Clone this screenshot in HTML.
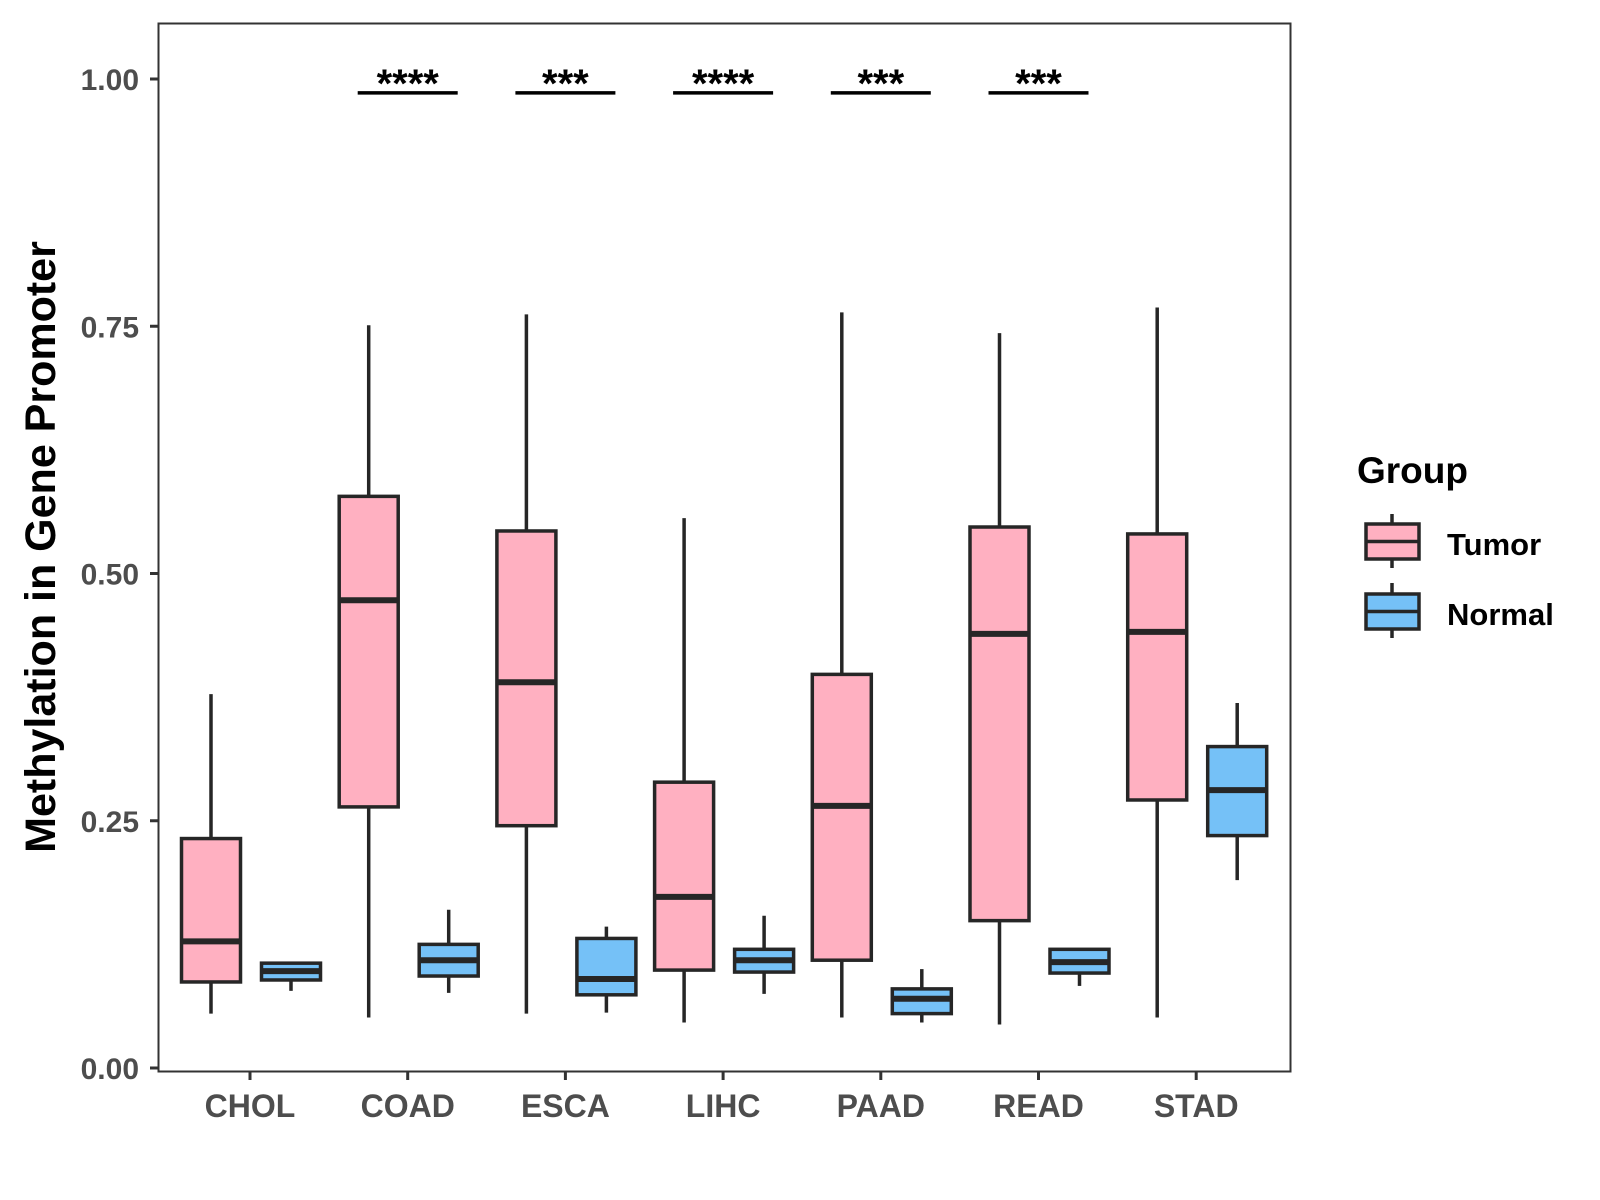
<!DOCTYPE html>
<html><head><meta charset="utf-8"><style>
body{margin:0;background:#fff}
svg{display:block;font-family:"Liberation Sans",Arial,sans-serif;font-weight:bold}
</style></head><body>
<svg id="chart" width="1600" height="1200" viewBox="0 0 1600 1200" xmlns="http://www.w3.org/2000/svg">
<rect x="158.5" y="23.5" width="1132" height="1048" fill="#fff" stroke="#333" stroke-width="2"/>
<g id="marks"></g>
<text x="0" y="0" transform="translate(55,547) rotate(-90)" text-anchor="middle" font-size="43" fill="#000">Methylation in Gene Promoter</text>
<text x="1357" y="483" font-size="37" fill="#000">Group</text>
<g>
<line x1="1392" y1="514" x2="1392" y2="568" stroke="#262626" stroke-width="3.5"/>
<rect x="1366" y="524" width="53" height="35" fill="#FFB0C1" stroke="#262626" stroke-width="3.5"/>
<line x1="1366" y1="541.5" x2="1419" y2="541.5" stroke="#262626" stroke-width="3.5"/>
<text x="1447" y="555" font-size="31" fill="#000">Tumor</text>
</g>
<g>
<line x1="1392" y1="583" x2="1392" y2="638" stroke="#262626" stroke-width="3.5"/>
<rect x="1366" y="594" width="53" height="35" fill="#75C1F7" stroke="#262626" stroke-width="3.5"/>
<line x1="1366" y1="611.5" x2="1419" y2="611.5" stroke="#262626" stroke-width="3.5"/>
<text x="1447" y="625" font-size="31" fill="#000">Normal</text>
</g>
</svg>
<script>
const categories=["CHOL","COAD","ESCA","LIHC","PAAD","READ","STAD"];
const tumorLow=[0.055,0.051,0.055,0.046,0.051,0.044,0.051];
const tumorQ1=[0.087,0.264,0.245,0.099,0.109,0.149,0.271];
const tumorMed=[0.128,0.473,0.390,0.173,0.265,0.439,0.441];
const tumorQ3=[0.232,0.578,0.543,0.289,0.398,0.547,0.540];
const tumorHigh=[0.378,0.751,0.762,0.556,0.764,0.743,0.769];
const normalLow=[0.078,0.076,0.056,0.075,0.046,0.083,0.190];
const normalQ1=[0.089,0.093,0.074,0.097,0.055,0.096,0.235];
const normalMed=[0.098,0.109,0.090,0.109,0.070,0.107,0.281];
const normalQ3=[0.106,0.125,0.131,0.120,0.080,0.120,0.325];
const normalHigh=[0.106,0.160,0.143,0.154,0.100,0.120,0.369];
const sigLabels=["","****","***","****","***","***",""];
const yTicks=[0,0.25,0.5,0.75,1.0];
const yTickLabels=["0.00","0.25","0.50","0.75","1.00"];

const NS="http://www.w3.org/2000/svg";
const g=document.getElementById('marks');
function y(v){return 1068-989*v;}
function x(i){return 250+i*157.7;}
function mk(tag,attrs){const e=document.createElementNS(NS,tag);for(const k in attrs)e.setAttribute(k,attrs[k]);g.appendChild(e);return e;}
const dark="#262626";
yTicks.forEach((t,i)=>{
  const tk=mk('line',{x1:150,x2:158,y1:y(t),y2:y(t),stroke:"#333","stroke-width":3});
  
  
  const tx=mk('text',{x:139,y:y(t)+11,"text-anchor":"end","font-size":30,fill:"#4d4d4d"});
  tx.textContent=yTickLabels[i];
  
  
});
function box(cx,lo,q1,md,q3,hi,fill,name){
  const w=59;
  const wl=mk('line',{x1:cx,x2:cx,y1:y(hi),y2:y(lo),stroke:dark,"stroke-width":3.5});
  
  
  const r=mk('rect',{x:cx-w/2,y:y(q3),width:w,height:y(q1)-y(q3),fill:fill,stroke:dark,"stroke-width":3.5});
  
  
  const m=mk('line',{x1:cx-w/2,x2:cx+w/2,y1:y(md),y2:y(md),stroke:dark,"stroke-width":6});
  
  
}
categories.forEach((c,i)=>{
  const cx=x(i);
  box(cx-39,tumorLow[i],tumorQ1[i],tumorMed[i],tumorQ3[i],tumorHigh[i],"#FFB0C1","tumor-"+c.toLowerCase());
  box(cx+41,normalLow[i],normalQ1[i],normalMed[i],normalQ3[i],normalHigh[i],"#75C1F7","normal-"+c.toLowerCase());
  const tk=mk('line',{x1:cx,x2:cx,y1:1072,y2:1080,stroke:"#333","stroke-width":3});
  
  
  const tl=mk('text',{x:cx,y:1117,"text-anchor":"middle","font-size":32,fill:"#4d4d4d"});
  tl.textContent=c;
  
  
  if(sigLabels[i]){
    const sl=mk('line',{x1:cx-50,x2:cx+50,y1:y(0.986),y2:y(0.986),stroke:"#000","stroke-width":3.5});
    
    
    const st=mk('text',{x:cx,y:y(0.986)+4,"text-anchor":"middle","font-size":40,fill:"#000"});
    st.textContent=sigLabels[i];
    
    
  }
});
</script>
</body></html>
